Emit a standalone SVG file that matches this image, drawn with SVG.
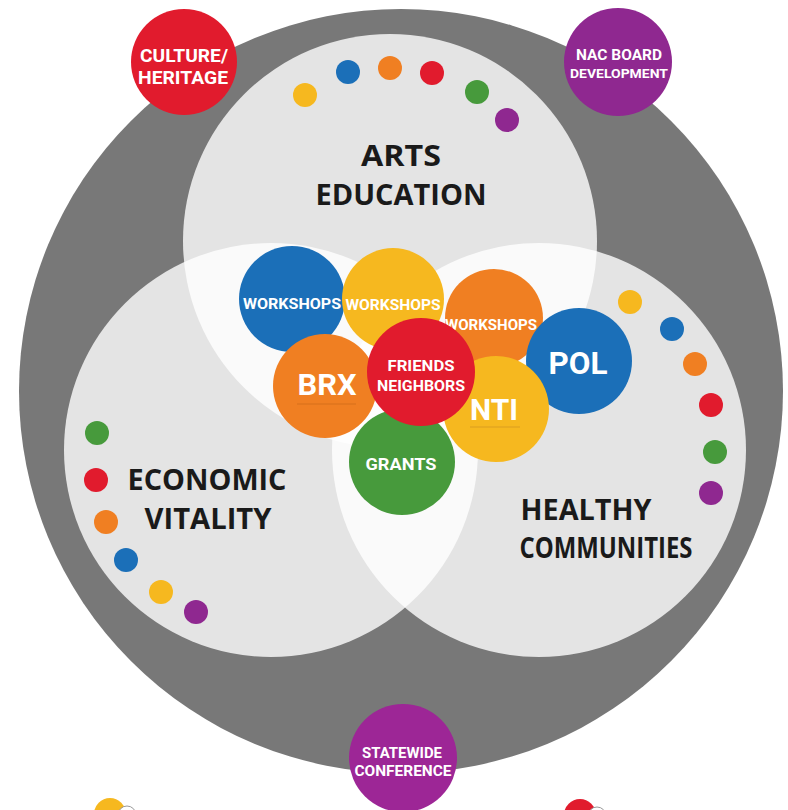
<svg xmlns="http://www.w3.org/2000/svg" width="788" height="810" viewBox="0 0 788 810">
<style>
.venn{fill:#ffffff;fill-opacity:0.8}
.title{font-family:"Open Sans","Liberation Sans",sans-serif;font-weight:700;font-size:29px;fill:#1a1a1a;text-anchor:middle}
.lbl{font-family:"Roboto","Liberation Sans",sans-serif;font-weight:700;fill:#ffffff;text-anchor:middle}
.blue{fill:#1b6fb8}.yellow{fill:#f6b81f}.orange{fill:#f07f22}.red{fill:#e11b2d}.green{fill:#479a3c}.purple{fill:#8f2890}.magenta{fill:#9d2696}
</style>
<rect width="788" height="810" fill="#ffffff"/>
<g id="outer"><circle cx="401" cy="391" r="382" fill="#787878"/></g>
<g id="venn">
<circle class="venn" cx="390" cy="241" r="207"/>
<circle class="venn" cx="271" cy="450" r="207"/>
<circle class="venn" cx="539" cy="450" r="207"/>
</g>
<g id="dots-top">
<circle class="yellow" cx="305" cy="95" r="12"/>
<circle class="blue" cx="348" cy="72" r="12"/>
<circle class="orange" cx="390" cy="68" r="12"/>
<circle class="red" cx="432" cy="73" r="12"/>
<circle class="green" cx="477" cy="92" r="12"/>
<circle class="purple" cx="507" cy="120" r="12"/>
</g>
<g id="dots-left">
<circle class="green" cx="97" cy="433" r="12"/>
<circle class="red" cx="96" cy="480" r="12"/>
<circle class="orange" cx="106" cy="522" r="12"/>
<circle class="blue" cx="126" cy="560" r="12"/>
<circle class="yellow" cx="161" cy="592" r="12"/>
<circle class="purple" cx="196" cy="612" r="12"/>
</g>
<g id="dots-right">
<circle class="yellow" cx="630" cy="302" r="12"/>
<circle class="blue" cx="672" cy="329" r="12"/>
<circle class="orange" cx="695" cy="364" r="12"/>
<circle class="red" cx="711" cy="405" r="12"/>
<circle class="green" cx="715" cy="452" r="12"/>
<circle class="purple" cx="711" cy="493" r="12"/>
</g>
<g id="arts-education"><text class="title" x="401" y="166" textLength="80" lengthAdjust="spacingAndGlyphs">ARTS</text><text class="title" x="401" y="205" textLength="171" lengthAdjust="spacingAndGlyphs">EDUCATION</text></g>
<g id="economic-vitality"><text class="title" x="207" y="490" textLength="159" lengthAdjust="spacingAndGlyphs">ECONOMIC</text><text class="title" x="208" y="529" textLength="127" lengthAdjust="spacingAndGlyphs">VITALITY</text></g>
<g id="healthy-communities"><text class="title" x="586" y="520" textLength="131" lengthAdjust="spacingAndGlyphs">HEALTHY</text><text class="title" x="606" y="558" textLength="173" lengthAdjust="spacingAndGlyphs">COMMUNITIES</text></g>
<g id="culture-heritage"><circle class="red" cx="184" cy="62" r="53"/><text class="lbl" x="184" y="62" font-size="18" textLength="88" lengthAdjust="spacingAndGlyphs">CULTURE/</text><text class="lbl" x="183" y="84" font-size="18" textLength="90" lengthAdjust="spacingAndGlyphs">HERITAGE</text></g>
<g id="nac-board"><circle class="purple" cx="618" cy="62" r="54"/><text class="lbl" x="619" y="60" font-size="15" textLength="86" lengthAdjust="spacingAndGlyphs">NAC BOARD</text><text class="lbl" x="619" y="78" font-size="13" textLength="98" lengthAdjust="spacingAndGlyphs">DEVELOPMENT</text></g>
<g id="statewide-conference"><circle class="magenta" cx="403" cy="758" r="54"/><text class="lbl" x="402" y="758" font-size="14" textLength="80" lengthAdjust="spacingAndGlyphs">STATEWIDE</text><text class="lbl" x="403" y="776" font-size="14" textLength="97" lengthAdjust="spacingAndGlyphs">CONFERENCE</text></g>
<g id="workshops-blue"><circle class="blue" cx="292" cy="299" r="53"/><text class="lbl" x="292" y="309" font-size="15" textLength="98" lengthAdjust="spacingAndGlyphs">WORKSHOPS</text></g>
<g id="workshops-yellow"><circle class="yellow" cx="393" cy="299" r="51"/><text class="lbl" x="393" y="310" font-size="15" textLength="95" lengthAdjust="spacingAndGlyphs">WORKSHOPS</text></g>
<g id="workshops-orange"><circle class="orange" cx="494" cy="318" r="49"/><text class="lbl" x="491" y="330" font-size="15" textLength="92" lengthAdjust="spacingAndGlyphs">WORKSHOPS</text></g>
<g id="pol"><circle class="blue" cx="579" cy="361" r="53"/><text class="lbl" x="578" y="374" font-size="31" textLength="59" lengthAdjust="spacingAndGlyphs">POL</text></g>
<g id="nti"><circle class="yellow" cx="496" cy="409" r="53"/><text class="lbl" x="494" y="420" font-size="29" textLength="48" lengthAdjust="spacingAndGlyphs">NTI</text><line x1="470" y1="427" x2="520" y2="427" stroke="#c89020" stroke-width="1" opacity="0.6"/></g>
<g id="grants"><circle class="green" cx="402" cy="462" r="53"/><text class="lbl" x="401" y="470" font-size="16" textLength="71" lengthAdjust="spacingAndGlyphs">GRANTS</text></g>
<g id="brx"><circle class="orange" cx="325" cy="386" r="52"/><text class="lbl" x="327" y="395" font-size="30" textLength="59" lengthAdjust="spacingAndGlyphs">BRX</text><line x1="297" y1="404" x2="356" y2="404" stroke="#c86818" stroke-width="1" opacity="0.6"/></g>
<g id="friends-neighbors"><circle class="red" cx="421" cy="372" r="54"/><text class="lbl" x="421" y="371" font-size="15" textLength="67" lengthAdjust="spacingAndGlyphs">FRIENDS</text><text class="lbl" x="421" y="391" font-size="15" textLength="88" lengthAdjust="spacingAndGlyphs">NEIGHBORS</text></g>
<g id="legend-partial">
<circle class="yellow" cx="110" cy="814" r="16"/><circle cx="127" cy="815" r="9" fill="#ffffff" stroke="#999999" stroke-width="1"/>
<circle class="red" cx="580" cy="815" r="16"/><circle cx="597" cy="816" r="9" fill="#ffffff" stroke="#999999" stroke-width="1"/>
</g>
</svg>
